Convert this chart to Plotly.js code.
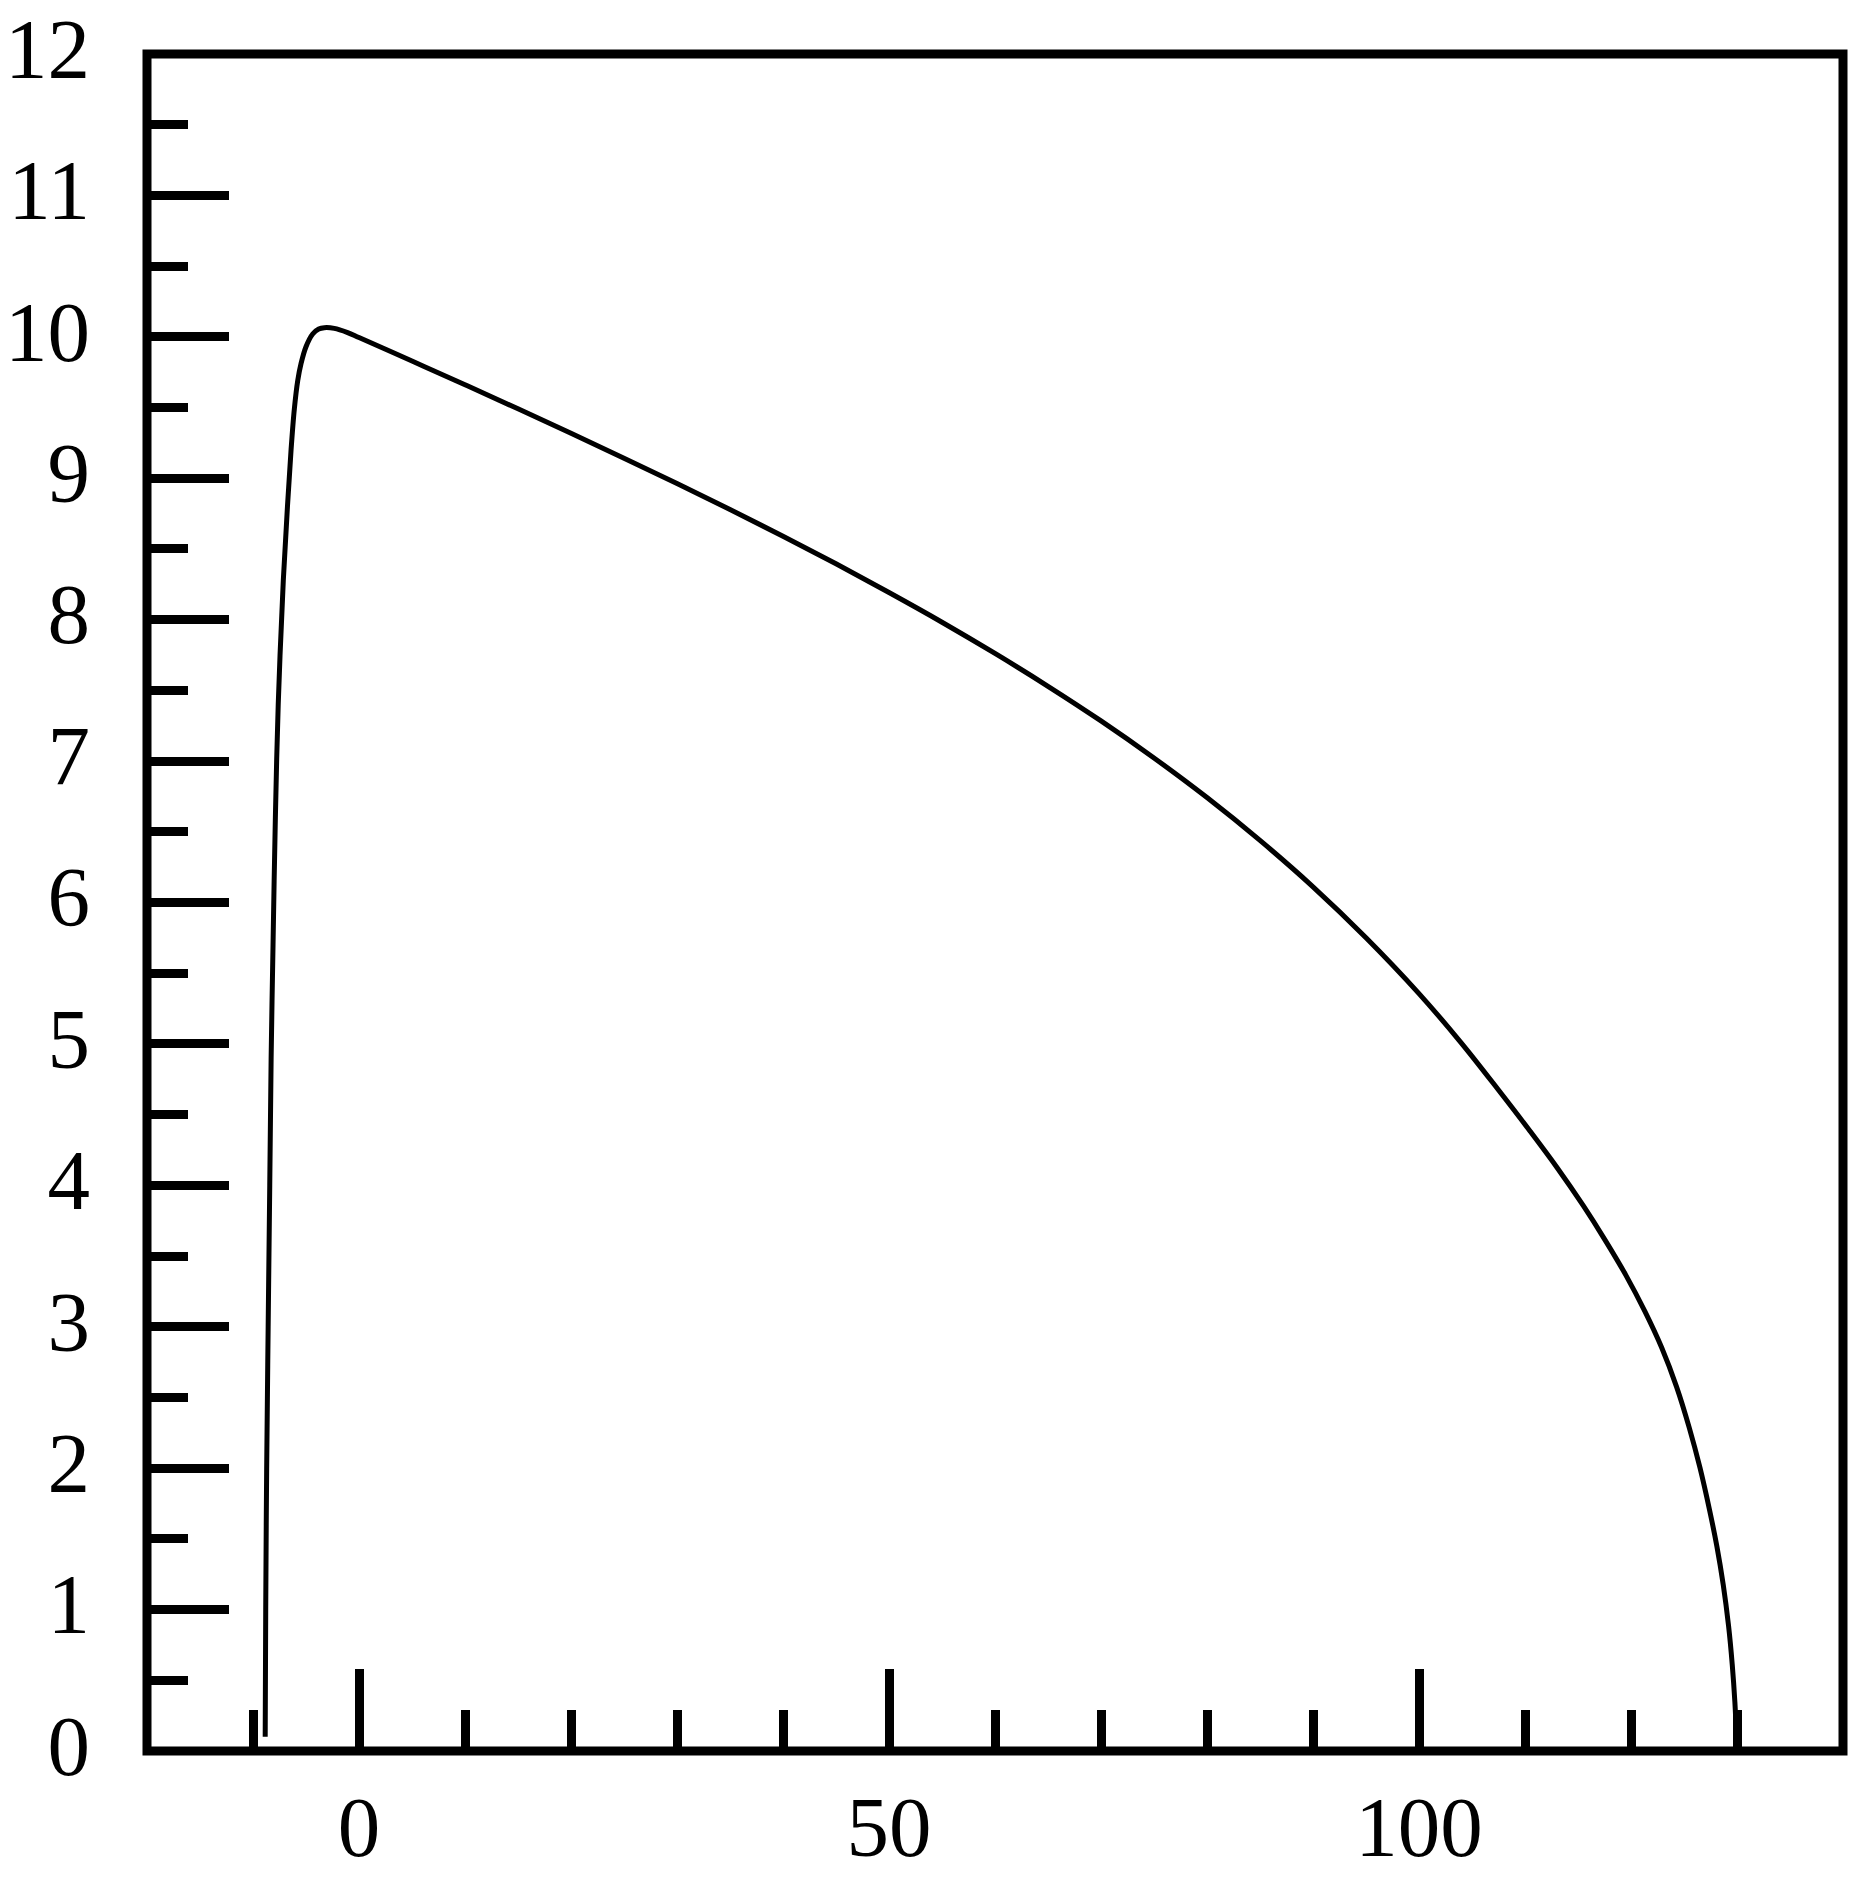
<!DOCTYPE html>
<html>
<head>
<meta charset="utf-8">
<script src="https://cdn.plot.ly/plotly-3.0.1.min.js"></script>
<style>html,body{margin:0;padding:0;background:#fff;}#chart{width:1865px;height:1877px;}</style>
</head>
<body>
<div id="chart"></div>
<script>
// Curve samples
const xVals = [-8.85, -8.80, -8.71, -8.57, -8.42, -8.29, -8.11, -7.89, -7.62, -7.14,
  -6.75, -6.41, -6.10, -5.78, -5.47, -5.00, -4.37, -3.80, -3.27, -2.33, -1.07,
  0, 5, 10, 15, 20, 25, 30, 35, 40, 45, 50, 55, 60, 65, 70, 75, 80, 85, 90, 95, 100,
  104, 107.5, 110.5, 113, 115.5, 117.5, 119.5, 121.3, 122.9, 124.3, 125.5, 126.5,
  127.4, 128.1, 128.7, 129.2, 129.55, 129.8, 129.97];
const yVals = [0.10, 1.0, 2.0, 3.0, 4.0, 4.9, 5.7, 6.6, 7.4, 8.28,
  8.80, 9.20, 9.49, 9.69, 9.81, 9.93, 10.02, 10.055, 10.065, 10.06, 10.03,
  9.995, 9.829, 9.661, 9.491, 9.318, 9.142, 8.963, 8.779, 8.590, 8.395, 8.192, 7.982, 7.761, 7.529, 7.284, 7.022, 6.742, 6.439, 6.111, 5.751, 5.356,
  5.006, 4.674, 4.381, 4.128, 3.856, 3.620, 3.367, 3.110, 2.851, 2.575, 2.285, 2.005,
  1.708, 1.448, 1.176, 0.887, 0.612, 0.345, 0.062];

const xTickVals = [0, 50, 100];
const xTickText = ['0', '50', '100'];
const yTickVals = [0, 1, 2, 3, 4, 5, 6, 7, 8, 9, 10, 11, 12];
const yTickText = ['0', '1', '2', '3', '4', '5', '6', '7', '8', '9', '10', '11', '12'];

const fontFam = '"Liberation Serif", "DejaVu Serif", serif';

const trace = {
  x: xVals, y: yVals, type: 'scatter', mode: 'lines',
  line: {color: '#000', width: 5, shape: 'spline', smoothing: 1, simplify: false},
  hoverinfo: 'skip', showlegend: false
};

const layout = {
  width: 1865, height: 1877,
  margin: {l: 147, r: 22, t: 54, b: 126, pad: 0},
  paper_bgcolor: '#fff', plot_bgcolor: '#fff',
  showlegend: false,
  xaxis: {
    range: [-20, 140], showgrid: false, zeroline: false, showline: false,
    tickmode: 'array', tickvals: xTickVals, ticktext: xTickText,
    ticks: 'inside', ticklen: 82, tickwidth: 9, tickcolor: '#000',
    ticklabelstandoff: 19,
    tickfont: {family: fontFam, size: 85, color: '#000'},
    minor: {dtick: 10, tick0: 0, ticks: 'inside', ticklen: 41, tickwidth: 9, tickcolor: '#000', showgrid: false},
    fixedrange: true
  },
  yaxis: {
    range: [0, 12], showgrid: false, zeroline: false, showline: false,
    tickmode: 'array', tickvals: yTickVals, ticktext: yTickText,
    ticks: 'inside', ticklen: 82, tickwidth: 9, tickcolor: '#000',
    ticklabelstandoff: 56,
    ticklabelshift: -6,
    tickfont: {family: fontFam, size: 85, color: '#000'},
    minor: {dtick: 0.5, tick0: 0, ticks: 'inside', ticklen: 41, tickwidth: 9, tickcolor: '#000', showgrid: false},
    fixedrange: true
  },
  shapes: [{
    type: 'rect', xref: 'paper', yref: 'paper', x0: 0, x1: 1, y0: 0, y1: 1,
    line: {color: '#000', width: 9}, fillcolor: 'rgba(0,0,0,0)', layer: 'above'
  }]
};

Plotly.newPlot('chart', [trace], layout, {displayModeBar: false, staticPlot: true});
</script>
</body>
</html>
